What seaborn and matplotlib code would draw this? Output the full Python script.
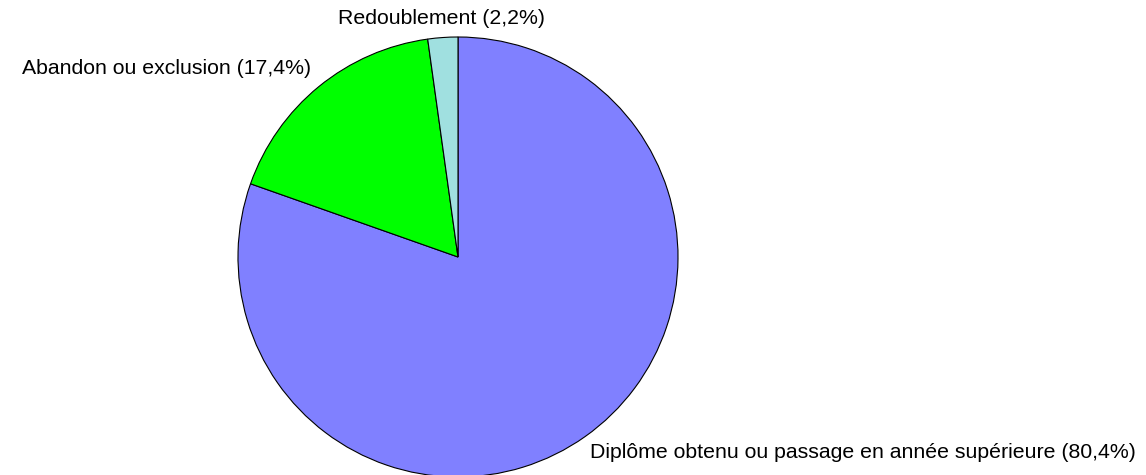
import matplotlib
matplotlib.use("Agg")
import matplotlib.pyplot as plt
import seaborn as sns

categories = ["Diplôme obtenu ou passage en année supérieure", "Abandon ou exclusion", "Redoublement"]
values = [80.4, 17.4, 2.2]
colors = ["#8080FF", "#00FF00", "#A0E0E0"]

sns.set_theme(style="white")
plt.rcParams['font.family'] = ['Liberation Sans', 'DejaVu Sans']

W, H = 1146, 475
fig = plt.figure(figsize=(W / 100, H / 100), dpi=100)
cx, cy, r = 458, 257, 220
ax = fig.add_axes([(cx - r) / W, (H - cy - r) / H, 2 * r / W, 2 * r / H])
ax.pie(values, colors=colors, startangle=90, counterclock=False, radius=1,
       wedgeprops=dict(edgecolor="black", linewidth=0.8))
ax.set_xlim(-1, 1)
ax.set_ylim(-1, 1)
ax.set_aspect("equal")
ax.axis("off")

def lab(i):
    return f"{categories[i]} ({values[i]:.1f}%)".replace(".", ",")

fs = 15.3
fig.text(590 / W, 1 - 453 / H, lab(0), ha="left", va="center", fontsize=fs, color="black")
fig.text(311 / W, 1 - 69 / H, lab(1), ha="right", va="center", fontsize=fs, color="black")
fig.text(441 / W, 1 - 19 / H, lab(2), ha="center", va="center", fontsize=fs, color="black")

fig.savefig("out.png", dpi=100)
